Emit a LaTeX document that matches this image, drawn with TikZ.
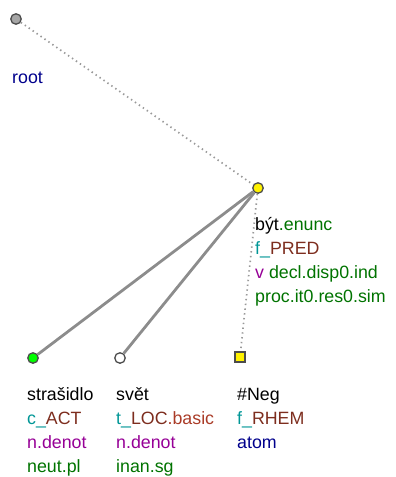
\documentclass[tikz,border=0pt]{standalone}
\usepackage{fontspec}
\setmainfont{Liberation Sans}
\usetikzlibrary{positioning}
\definecolor{navyblue}{RGB}{0,0,140}
\definecolor{funcol}{RGB}{0,150,150}
\definecolor{brown}{RGB}{125,45,30}
\definecolor{lbrown}{RGB}{170,60,40}
\definecolor{purple}{RGB}{150,0,150}
\definecolor{dgreen}{RGB}{0,115,0}

\begin{document}
\begin{tikzpicture}[
    x=1pt, y=-1pt,
    tnode/.style={draw=black!70, circle, inner sep=0pt, minimum size=10.5pt, line width=1.3pt},
    tsquare/.style={draw=black!70, rectangle, inner sep=0pt, minimum size=10pt, line width=1.3pt, fill=yellow},
    label/.style={anchor=base west, inner sep=0pt, font=\fontsize{17.8}{17.8}\selectfont},
    hedge/.style={line width=2.8pt, draw=black!45},
    dedge/.style={line width=1.7pt, draw=black!40, dash pattern=on 1.4pt off 3.4pt},
]
\useasboundingbox (0,0) rectangle (396,477);
\node[tnode, fill=black!35] (root) at (16,19) {};
\node[tnode, fill=yellow] (byt) at (258,188) {};
\node[tnode, fill=green] (strasidlo) at (33,358) {};
\node[tnode, fill=white] (svet) at (120,358) {};
\node[tsquare] (neg) at (240,357) {};
% edges
\draw[dedge] (root) -- (byt);
\draw[hedge] (byt) -- (strasidlo);
\draw[hedge] (byt) -- (svet);
\draw[dedge] (byt) -- (neg);
% labels
\node[label, text=navyblue] (rootlbl) at (12,83) {root};
\node[label] (byt1) at (255,230) {být\textcolor{dgreen}{.enunc}};
\node[label] (byt2) at (255,254) {\textcolor{funcol}{f\_}\textcolor{brown}{PRED}};
\node[label] (byt3) at (255,278) {\textcolor{purple}{v} \textcolor{dgreen}{decl.disp0.ind}};
\node[label, text=dgreen] (byt4) at (255,302) {proc.it0.res0.sim};
\node[label] (str1) at (27,400) {strašidlo};
\node[label] (str2) at (27,424) {\textcolor{funcol}{c\_}\textcolor{brown}{ACT}};
\node[label, text=purple] (str3) at (27,448) {n.denot};
\node[label, text=dgreen] (str4) at (27,472) {neut.pl};
\node[label] (svet1) at (116,400) {svět};
\node[label] (svet2) at (116,424) {\textcolor{funcol}{t\_}\textcolor{brown}{LOC}\textcolor{lbrown}{.basic}};
\node[label, text=purple] (svet3) at (116,448) {n.denot};
\node[label, text=dgreen] (svet4) at (116,472) {inan.sg};
\node[label] (neg1) at (237,400) {\#Neg};
\node[label] (neg2) at (237,424) {\textcolor{funcol}{f\_}\textcolor{brown}{RHEM}};
\node[label, text=navyblue] (neg3) at (237,448) {atom};
\end{tikzpicture}
\end{document}
